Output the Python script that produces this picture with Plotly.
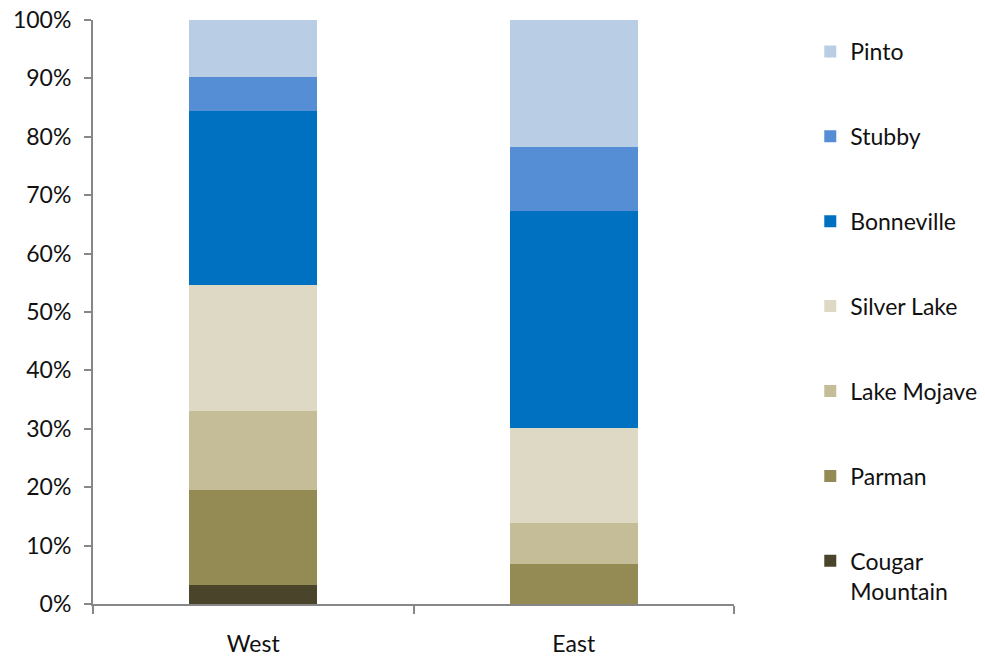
import plotly.graph_objects as go

# Regions on the category axis
regions = ["West", "East"]

# Share of each component (%), listed bottom to top of the stack
cougar_mountain = [3.2, 0.0]
parman = [16.4, 6.9]
lake_mojave = [13.4, 6.9]
silver_lake = [21.6, 16.4]
bonneville = [29.8, 37.1]
stubby = [5.8, 10.9]
pinto = [9.8, 21.8]

series = [
    ("Cougar<br>Mountain", cougar_mountain, "#4A452A"),
    ("Parman", parman, "#948A54"),
    ("Lake Mojave", lake_mojave, "#C4BD97"),
    ("Silver Lake", silver_lake, "#DDD9C4"),
    ("Bonneville", bonneville, "#0070C0"),
    ("Stubby", stubby, "#558ED5"),
    ("Pinto", pinto, "#B9CDE5"),
]

y_ticks = [0, 10, 20, 30, 40, 50, 60, 70, 80, 90, 100]
y_tick_text = [f"{v}%" for v in y_ticks]

fig = go.Figure()
n = len(series)
for i, (name, vals, color) in enumerate(series):
    fig.add_trace(go.Bar(
        x=regions, y=vals, name=name, legendgroup=name,
        legendrank=n - i,  # top of the stack listed first
        marker=dict(color=color, line=dict(width=0)),
    ))

font = dict(family="Lato", size=23, color="#111111")
axis_color = "#878787"

fig.update_layout(
    width=985, height=657,
    margin=dict(l=93, r=251, t=20, b=53, autoexpand=False),
    paper_bgcolor="white", plot_bgcolor="white",
    barmode="stack", bargap=0.6,
    font=font,
    showlegend=True,
    legend=dict(
        traceorder="grouped", tracegroupgap=52,
        x=1.119, xanchor="left", y=0.983, yanchor="top",
        valign="top", font=font, bgcolor="rgba(0,0,0,0)",
    ),
    xaxis=dict(
        automargin=False,
        showline=True, linecolor=axis_color, linewidth=2,
        ticks="outside", tickson="boundaries", ticklen=8,
        tickcolor=axis_color, tickwidth=2,
        ticklabelstandoff=18, showgrid=False, zeroline=False,
    ),
    yaxis=dict(
        automargin=False,
        range=[0, 100], tickmode="array", tickvals=y_ticks, ticktext=y_tick_text,
        showline=True, linecolor=axis_color, linewidth=2,
        ticks="outside", ticklen=7, tickcolor=axis_color, tickwidth=2,
        ticklabelstandoff=8, showgrid=False, zeroline=False,
    ),
)

fig.write_html("out.html")
